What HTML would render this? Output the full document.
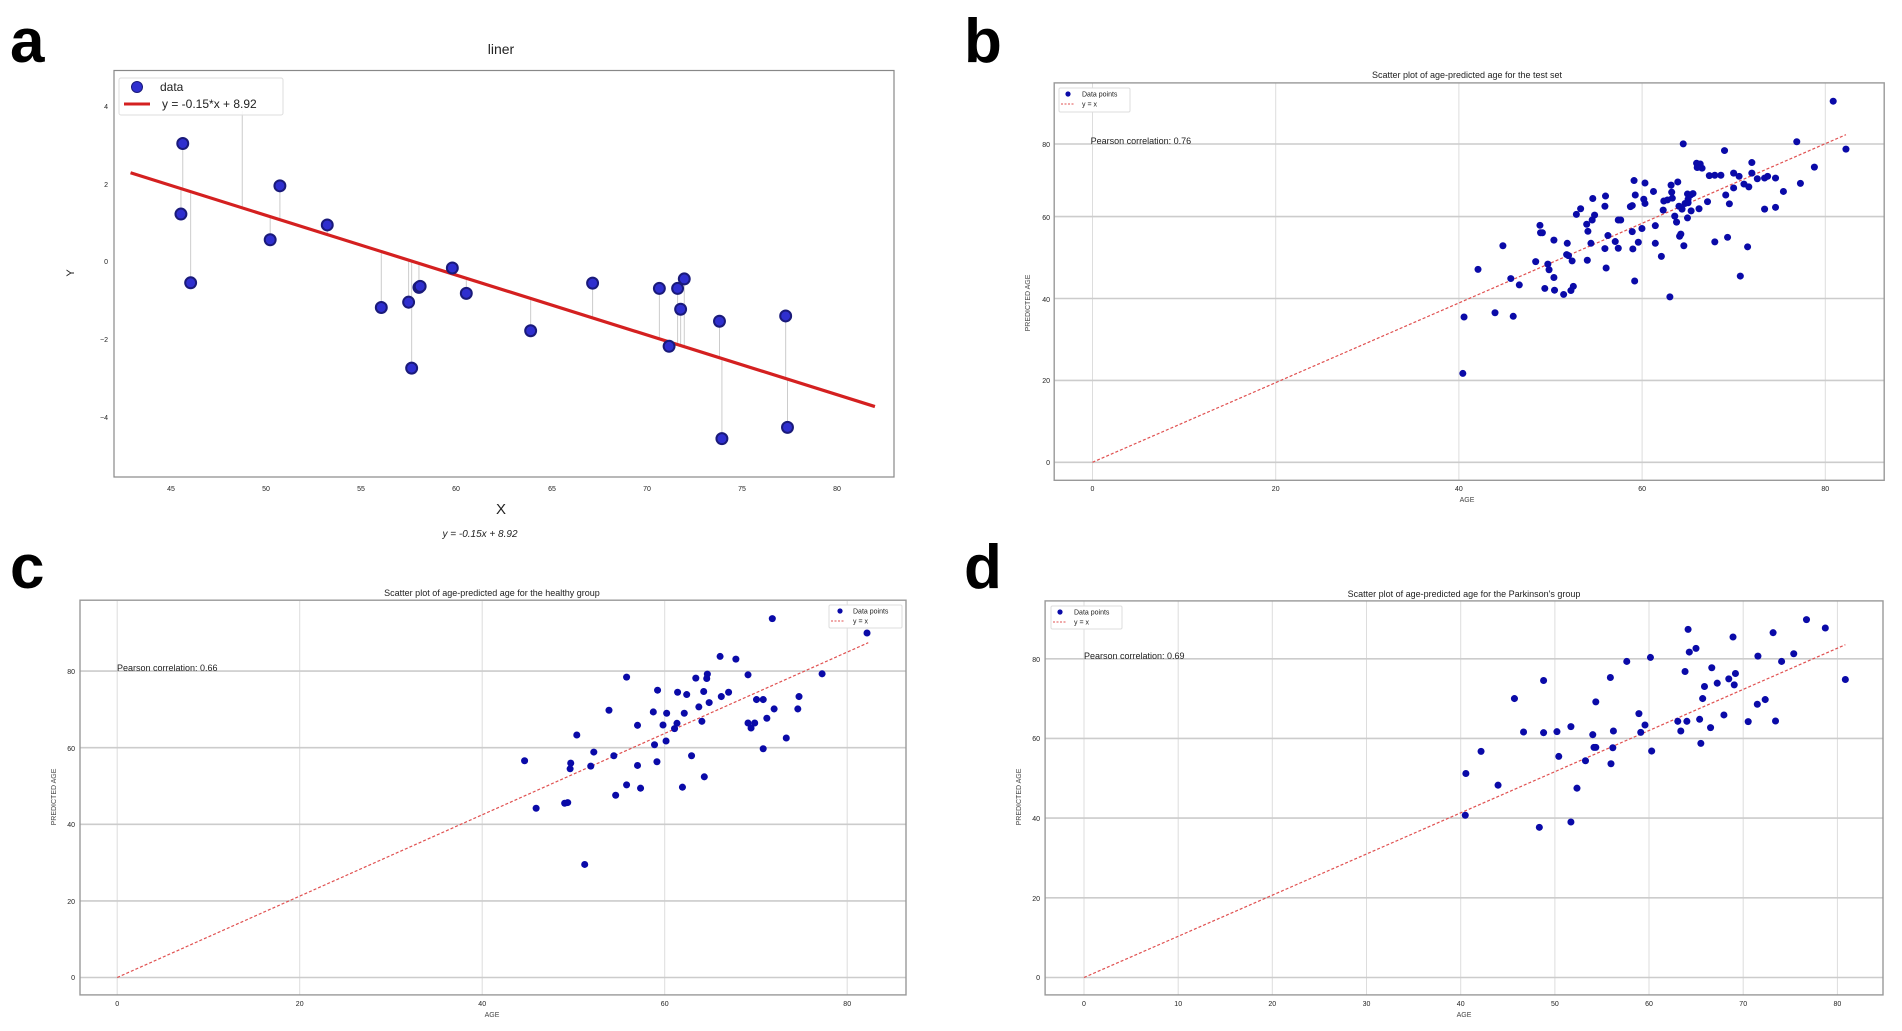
<!DOCTYPE html>
<html><head><meta charset="utf-8"><style>
html,body{margin:0;padding:0;background:#fff}
svg{display:block}
text{font-family:"Liberation Sans",sans-serif;fill:#222}
.t{font-size:7px;fill:#444}
.tt{font-size:9px}
.big{font-size:62px;font-weight:bold;fill:#000}
</style></head><body>
<svg width="1902" height="1031" viewBox="0 0 1902 1031" xmlns="http://www.w3.org/2000/svg" xmlns:xlink="http://www.w3.org/1999/xlink">
<defs>
<ellipse id="ma" cx="0" cy="0" rx="9" ry="15.6" fill="#2f2fcf" stroke="#1a1a7a" stroke-width="2" vector-effect="non-scaling-stroke"/>
<ellipse id="mb" cx="0" cy="0" rx="5.8" ry="9.9" fill="#0a0aa8"/>
<ellipse id="mc" cx="0" cy="0" rx="5.8" ry="10.5" fill="#0a0aa8"/>
</defs>

<!-- Panel labels -->
<text x="10" y="62" class="big">a</text>
<text x="964" y="62" class="big">b</text>
<text x="10" y="588" class="big">c</text>
<text x="964" y="588" class="big">d</text>

<!-- ================= Panel a ================= -->
<rect x="114" y="70.5" width="780" height="406.5" fill="none" stroke="#888" stroke-width="1.2"/>
<text x="501" y="54" text-anchor="middle" style="font-size:14px">liner</text>
<g class="t" text-anchor="middle">
<text x="171" y="491">45</text><text x="266" y="491">50</text><text x="361" y="491">55</text><text x="456" y="491">60</text><text x="552" y="491">65</text><text x="647" y="491">70</text><text x="742" y="491">75</text><text x="837" y="491">80</text>
</g>
<g class="t" text-anchor="end">
<text x="108" y="109">4</text><text x="108" y="187">2</text><text x="108" y="264">0</text><text x="108" y="342">−2</text><text x="108" y="420">−4</text>
</g>
<text x="501" y="514" text-anchor="middle" style="font-size:15px">X</text>
<text x="480" y="537" text-anchor="middle" style="font-size:10px;font-style:italic">y = -0.15x + 8.92</text>
<text x="74" y="273" text-anchor="middle" style="font-size:11px" transform="rotate(-90 74 273)">Y</text>
<g transform="scale(0.60716,0.35261)">
<g stroke="#ccc" stroke-width="1" vector-effect="non-scaling-stroke">
<line x1="301" y1="407" x2="301" y2="536" vector-effect="non-scaling-stroke"/>
<line x1="298" y1="607" x2="298" y2="535" vector-effect="non-scaling-stroke"/>
<line x1="314" y1="802" x2="314" y2="543" vector-effect="non-scaling-stroke"/>
<line x1="399" y1="315" x2="399" y2="589" vector-effect="non-scaling-stroke"/>
<line x1="445" y1="680" x2="445" y2="614" vector-effect="non-scaling-stroke"/>
<line x1="461" y1="527" x2="461" y2="623" vector-effect="non-scaling-stroke"/>
<line x1="539" y1="638" x2="539" y2="665" vector-effect="non-scaling-stroke"/>
<line x1="628" y1="872" x2="628" y2="713" vector-effect="non-scaling-stroke"/>
<line x1="673" y1="857" x2="673" y2="738" vector-effect="non-scaling-stroke"/>
<line x1="678" y1="1044" x2="678" y2="740" vector-effect="non-scaling-stroke"/>
<line x1="690" y1="815" x2="690" y2="747" vector-effect="non-scaling-stroke"/>
<line x1="745" y1="760" x2="745" y2="777" vector-effect="non-scaling-stroke"/>
<line x1="768" y1="832" x2="768" y2="789" vector-effect="non-scaling-stroke"/>
<line x1="874" y1="938" x2="874" y2="846" vector-effect="non-scaling-stroke"/>
<line x1="976" y1="803" x2="976" y2="901" vector-effect="non-scaling-stroke"/>
<line x1="1086" y1="818" x2="1086" y2="961" vector-effect="non-scaling-stroke"/>
<line x1="1102" y1="982" x2="1102" y2="970" vector-effect="non-scaling-stroke"/>
<line x1="1116" y1="818" x2="1116" y2="977" vector-effect="non-scaling-stroke"/>
<line x1="1121" y1="877" x2="1121" y2="980" vector-effect="non-scaling-stroke"/>
<line x1="1127" y1="791" x2="1127" y2="983" vector-effect="non-scaling-stroke"/>
<line x1="1185" y1="911" x2="1185" y2="1015" vector-effect="non-scaling-stroke"/>
<line x1="1189" y1="1244" x2="1189" y2="1017" vector-effect="non-scaling-stroke"/>
<line x1="1294" y1="896" x2="1294" y2="1073" vector-effect="non-scaling-stroke"/>
<line x1="1297" y1="1212" x2="1297" y2="1075" vector-effect="non-scaling-stroke"/>
</g>
<line x1="215" y1="490" x2="1441" y2="1153" stroke="#d42020" stroke-width="3.2" vector-effect="non-scaling-stroke"/>
<use href="#ma" x="301" y="407"/><use href="#ma" x="298" y="607"/><use href="#ma" x="314" y="802"/>
<use href="#ma" x="445" y="680"/><use href="#ma" x="461" y="527"/><use href="#ma" x="539" y="638"/><use href="#ma" x="628" y="872"/>
<use href="#ma" x="673" y="857"/><use href="#ma" x="678" y="1044"/><use href="#ma" x="690" y="815"/><use href="#ma" x="692" y="812"/>
<use href="#ma" x="745" y="760"/><use href="#ma" x="768" y="832"/><use href="#ma" x="874" y="938"/><use href="#ma" x="976" y="803"/>
<use href="#ma" x="1086" y="818"/><use href="#ma" x="1102" y="982"/><use href="#ma" x="1116" y="818"/><use href="#ma" x="1121" y="877"/>
<use href="#ma" x="1127" y="791"/><use href="#ma" x="1185" y="911"/><use href="#ma" x="1189" y="1244"/><use href="#ma" x="1294" y="896"/><use href="#ma" x="1297" y="1212"/>
</g>
<rect x="119" y="78" width="164" height="37" fill="#fff" fill-opacity="0.85" stroke="#ddd" rx="2"/>
<circle cx="137" cy="87" r="5.5" fill="#2f2fcf" stroke="#1a1a7a"/>
<text x="160" y="91" style="font-size:12px">data</text>
<line x1="124" y1="104" x2="150" y2="104" stroke="#d42020" stroke-width="3"/>
<text x="162" y="108" style="font-size:12px">y = -0.15*x + 8.92</text>

<!-- ================= Panel b ================= -->
<g stroke="#ddd" stroke-width="1">
<line x1="1092.5" y1="83" x2="1092.5" y2="480"/><line x1="1275.7" y1="83" x2="1275.7" y2="480"/><line x1="1458.9" y1="83" x2="1458.9" y2="480"/><line x1="1642.1" y1="83" x2="1642.1" y2="480"/><line x1="1825.3" y1="83" x2="1825.3" y2="480"/>
</g>
<g stroke="#ccc" stroke-width="1.6">
<line x1="1054" y1="462.3" x2="1884" y2="462.3"/><line x1="1054" y1="380.4" x2="1884" y2="380.4"/><line x1="1054" y1="298.5" x2="1884" y2="298.5"/><line x1="1054" y1="216.6" x2="1884" y2="216.6"/><line x1="1054" y1="144" x2="1884" y2="144"/>
</g>
<rect x="1054.2" y="82.9" width="830" height="397.4" fill="none" stroke="#999" stroke-width="1.4"/>
<text x="1467" y="78" text-anchor="middle" class="tt">Scatter plot of age-predicted age for the test set</text>
<text x="1090.6" y="144" class="tt">Pearson correlation: 0.76</text>
<text x="1467" y="502" text-anchor="middle" class="t">AGE</text>
<text x="1030" y="303" text-anchor="middle" class="t" transform="rotate(-90 1030 303)">PREDICTED AGE</text>
<g class="t" text-anchor="middle">
<text x="1092.5" y="491">0</text><text x="1275.7" y="491">20</text><text x="1458.9" y="491">40</text><text x="1642.1" y="491">60</text><text x="1825.3" y="491">80</text>
</g>
<g class="t" text-anchor="end">
<text x="1050" y="465">0</text><text x="1050" y="383">20</text><text x="1050" y="302">40</text><text x="1050" y="220">60</text><text x="1050" y="147">80</text>
</g>
<g transform="translate(951,0) scale(0.60716,0.35261)">
<line x1="233" y1="1311" x2="1474" y2="382" stroke="#e05050" stroke-width="1.2" stroke-dasharray="3,2" vector-effect="non-scaling-stroke"/>
<use href="#mb" x="1453" y="287"/><use href="#mb" x="1393" y="402"/><use href="#mb" x="1206" y="408"/><use href="#mb" x="1474" y="423"/><use href="#mb" x="1274" y="427"/><use href="#mb" x="1422" y="474"/><use href="#mb" x="1399" y="520"/><use href="#mb" x="1319" y="461"/><use href="#mb" x="1228" y="463"/><use href="#mb" x="1234" y="465"/><use href="#mb" x="1229" y="475"/><use href="#mb" x="1237" y="477"/><use href="#mb" x="1249" y="498"/><use href="#mb" x="1258" y="497"/><use href="#mb" x="1268" y="497"/><use href="#mb" x="1289" y="491"/><use href="#mb" x="1298" y="500"/><use href="#mb" x="1289" y="533"/><use href="#mb" x="1306" y="522"/><use href="#mb" x="1319" y="491"/><use href="#mb" x="1328" y="507"/><use href="#mb" x="1340" y="505"/><use href="#mb" x="1345" y="500"/><use href="#mb" x="1358" y="505"/><use href="#mb" x="1371" y="543"/><use href="#mb" x="1358" y="588"/><use href="#mb" x="1340" y="593"/><use href="#mb" x="1246" y="572"/><use href="#mb" x="1232" y="592"/><use href="#mb" x="1213" y="550"/><use href="#mb" x="1218" y="553"/><use href="#mb" x="1222" y="549"/><use href="#mb" x="1214" y="565"/><use href="#mb" x="1209" y="577"/><use href="#mb" x="1199" y="585"/><use href="#mb" x="1188" y="562"/><use href="#mb" x="1186" y="525"/><use href="#mb" x="1197" y="516"/><use href="#mb" x="1180" y="567"/><use href="#mb" x="1173" y="596"/><use href="#mb" x="1192" y="613"/><use href="#mb" x="1195" y="630"/><use href="#mb" x="1213" y="618"/><use href="#mb" x="1219" y="598"/><use href="#mb" x="1204" y="593"/><use href="#mb" x="1200" y="670"/><use href="#mb" x="1207" y="697"/><use href="#mb" x="1258" y="686"/><use href="#mb" x="1279" y="673"/><use href="#mb" x="1276" y="553"/><use href="#mb" x="1282" y="578"/><use href="#mb" x="1312" y="700"/><use href="#mb" x="1300" y="783"/><use href="#mb" x="1314" y="530"/><use href="#mb" x="1125" y="512"/><use href="#mb" x="1143" y="519"/><use href="#mb" x="1157" y="543"/><use href="#mb" x="1141" y="565"/><use href="#mb" x="1143" y="577"/><use href="#mb" x="1122" y="583"/><use href="#mb" x="1127" y="553"/><use href="#mb" x="1174" y="570"/><use href="#mb" x="1160" y="640"/><use href="#mb" x="1160" y="690"/><use href="#mb" x="1170" y="727"/><use href="#mb" x="1184" y="842"/><use href="#mb" x="1126" y="797"/><use href="#mb" x="1132" y="687"/><use href="#mb" x="1123" y="706"/><use href="#mb" x="1122" y="657"/><use href="#mb" x="1138" y="648"/><use href="#mb" x="1099" y="624"/><use href="#mb" x="1103" y="624"/><use href="#mb" x="1078" y="556"/><use href="#mb" x="1077" y="585"/><use href="#mb" x="1057" y="563"/><use href="#mb" x="1056" y="624"/><use href="#mb" x="1037" y="592"/><use href="#mb" x="1047" y="636"/><use href="#mb" x="1049" y="656"/><use href="#mb" x="1054" y="690"/><use href="#mb" x="1082" y="668"/><use href="#mb" x="1077" y="705"/><use href="#mb" x="1079" y="760"/><use href="#mb" x="1094" y="685"/><use href="#mb" x="1099" y="704"/><use href="#mb" x="1030" y="608"/><use href="#mb" x="1015" y="690"/><use href="#mb" x="1014" y="722"/><use href="#mb" x="1023" y="740"/><use href="#mb" x="1048" y="738"/><use href="#mb" x="993" y="681"/><use href="#mb" x="970" y="639"/><use href="#mb" x="971" y="660"/><use href="#mb" x="974" y="660"/><use href="#mb" x="963" y="742"/><use href="#mb" x="983" y="749"/><use href="#mb" x="985" y="765"/><use href="#mb" x="993" y="787"/><use href="#mb" x="978" y="818"/><use href="#mb" x="994" y="823"/><use href="#mb" x="1009" y="835"/><use href="#mb" x="1021" y="824"/><use href="#mb" x="1025" y="812"/><use href="#mb" x="909" y="697"/><use href="#mb" x="922" y="790"/><use href="#mb" x="936" y="808"/><use href="#mb" x="868" y="764"/><use href="#mb" x="896" y="887"/><use href="#mb" x="926" y="897"/><use href="#mb" x="845" y="899"/><use href="#mb" x="843" y="1059"/><use href="#mb" x="1017" y="725"/><use href="#mb" x="1060" y="610"/><use href="#mb" x="1119" y="586"/><use href="#mb" x="1187" y="545"/><use href="#mb" x="1214" y="575"/><use href="#mb" x="1202" y="664"/>
</g>
<rect x="1059" y="88" width="71" height="24" fill="#fff" stroke="#ddd" rx="1.5"/>
<circle cx="1068" cy="94" r="2.6" fill="#0a0aa8"/>
<text x="1082" y="96.5" style="font-size:7px">Data points</text>
<line x1="1061" y1="104" x2="1075" y2="104" stroke="#e05050" stroke-dasharray="2,1.5"/>
<text x="1082" y="106.5" style="font-size:7px">y = x</text>

<!-- ================= Panel c ================= -->
<g stroke="#ddd" stroke-width="1">
<line x1="117.2" y1="601" x2="117.2" y2="995"/><line x1="299.7" y1="601" x2="299.7" y2="995"/><line x1="482.2" y1="601" x2="482.2" y2="995"/><line x1="664.7" y1="601" x2="664.7" y2="995"/><line x1="847.2" y1="601" x2="847.2" y2="995"/>
</g>
<g stroke="#ccc" stroke-width="1.6">
<line x1="80" y1="977.5" x2="906" y2="977.5"/><line x1="80" y1="900.9" x2="906" y2="900.9"/><line x1="80" y1="824.3" x2="906" y2="824.3"/><line x1="80" y1="747.7" x2="906" y2="747.7"/><line x1="80" y1="671.1" x2="906" y2="671.1"/>
</g>
<rect x="80" y="600.2" width="826" height="394.7" fill="none" stroke="#999" stroke-width="1.4"/>
<text x="492" y="596" text-anchor="middle" class="tt">Scatter plot of age-predicted age for the healthy group</text>
<text x="117" y="671" class="tt">Pearson correlation: 0.66</text>
<text x="492" y="1017" text-anchor="middle" class="t">AGE</text>
<text x="56" y="797" text-anchor="middle" class="t" transform="rotate(-90 56 797)">PREDICTED AGE</text>
<g class="t" text-anchor="middle">
<text x="117.2" y="1006">0</text><text x="299.7" y="1006">20</text><text x="482.2" y="1006">40</text><text x="664.7" y="1006">60</text><text x="847.2" y="1006">80</text>
</g>
<g class="t" text-anchor="end">
<text x="75" y="980">0</text><text x="75" y="904">20</text><text x="75" y="827">40</text><text x="75" y="751">60</text><text x="75" y="674">80</text>
</g>
<g transform="translate(0,530) scale(0.60716,0.33445)">
<line x1="193" y1="1338" x2="1430" y2="337" stroke="#e05050" stroke-width="1.2" stroke-dasharray="3,2" vector-effect="non-scaling-stroke"/>
<use href="#mc" x="1272" y="265"/><use href="#mc" x="1428" y="308"/><use href="#mc" x="1186" y="378"/><use href="#mc" x="1212" y="386"/><use href="#mc" x="1232" y="433"/><use href="#mc" x="1354" y="430"/><use href="#mc" x="1032" y="440"/><use href="#mc" x="1146" y="443"/><use href="#mc" x="1165" y="431"/><use href="#mc" x="1164" y="444"/><use href="#mc" x="1083" y="479"/><use href="#mc" x="1116" y="485"/><use href="#mc" x="1131" y="492"/><use href="#mc" x="1159" y="483"/><use href="#mc" x="1200" y="485"/><use href="#mc" x="1188" y="498"/><use href="#mc" x="1168" y="516"/><use href="#mc" x="1316" y="498"/><use href="#mc" x="1246" y="507"/><use href="#mc" x="1257" y="507"/><use href="#mc" x="1151" y="529"/><use href="#mc" x="1003" y="539"/><use href="#mc" x="1076" y="544"/><use href="#mc" x="1098" y="548"/><use href="#mc" x="1127" y="548"/><use href="#mc" x="1275" y="535"/><use href="#mc" x="1314" y="535"/><use href="#mc" x="1263" y="563"/><use href="#mc" x="1050" y="584"/><use href="#mc" x="1092" y="583"/><use href="#mc" x="1115" y="578"/><use href="#mc" x="1111" y="594"/><use href="#mc" x="1156" y="572"/><use href="#mc" x="1232" y="577"/><use href="#mc" x="1243" y="577"/><use href="#mc" x="1237" y="592"/><use href="#mc" x="950" y="613"/><use href="#mc" x="1097" y="631"/><use href="#mc" x="1078" y="642"/><use href="#mc" x="1295" y="622"/><use href="#mc" x="1257" y="654"/><use href="#mc" x="978" y="664"/><use href="#mc" x="1011" y="675"/><use href="#mc" x="1139" y="675"/><use href="#mc" x="864" y="690"/><use href="#mc" x="940" y="697"/><use href="#mc" x="939" y="714"/><use href="#mc" x="973" y="706"/><use href="#mc" x="1050" y="704"/><use href="#mc" x="1082" y="693"/><use href="#mc" x="1160" y="738"/><use href="#mc" x="1032" y="762"/><use href="#mc" x="1055" y="772"/><use href="#mc" x="1124" y="769"/><use href="#mc" x="1014" y="793"/><use href="#mc" x="883" y="832"/><use href="#mc" x="930" y="817"/><use href="#mc" x="935" y="815"/><use href="#mc" x="963" y="1000"/>
</g>
<rect x="829" y="605" width="73" height="23" fill="#fff" stroke="#ddd" rx="1.5"/>
<circle cx="840" cy="611" r="2.6" fill="#0a0aa8"/>
<text x="853" y="613.5" style="font-size:7px">Data points</text>
<line x1="831" y1="621" x2="845" y2="621" stroke="#e05050" stroke-dasharray="2,1.5"/>
<text x="853" y="623.5" style="font-size:7px">y = x</text>

<!-- ================= Panel d ================= -->
<g stroke="#ddd" stroke-width="1">
<line x1="1084" y1="601" x2="1084" y2="995"/><line x1="1178.2" y1="601" x2="1178.2" y2="995"/><line x1="1272.3" y1="601" x2="1272.3" y2="995"/><line x1="1366.5" y1="601" x2="1366.5" y2="995"/><line x1="1460.7" y1="601" x2="1460.7" y2="995"/><line x1="1554.9" y1="601" x2="1554.9" y2="995"/><line x1="1649" y1="601" x2="1649" y2="995"/><line x1="1743.2" y1="601" x2="1743.2" y2="995"/><line x1="1837.4" y1="601" x2="1837.4" y2="995"/>
</g>
<g stroke="#ccc" stroke-width="1.6">
<line x1="1045" y1="977.5" x2="1883" y2="977.5"/><line x1="1045" y1="897.8" x2="1883" y2="897.8"/><line x1="1045" y1="818.1" x2="1883" y2="818.1"/><line x1="1045" y1="738.4" x2="1883" y2="738.4"/><line x1="1045" y1="658.8" x2="1883" y2="658.8"/>
</g>
<rect x="1045.1" y="600.9" width="837.9" height="394" fill="none" stroke="#999" stroke-width="1.4"/>
<text x="1464" y="597" text-anchor="middle" class="tt">Scatter plot of age-predicted age for the Parkinson's group</text>
<text x="1084" y="659" class="tt">Pearson correlation: 0.69</text>
<text x="1464" y="1017" text-anchor="middle" class="t">AGE</text>
<text x="1021" y="797" text-anchor="middle" class="t" transform="rotate(-90 1021 797)">PREDICTED AGE</text>
<g class="t" text-anchor="middle">
<text x="1084" y="1006">0</text><text x="1178.2" y="1006">10</text><text x="1272.3" y="1006">20</text><text x="1366.5" y="1006">30</text><text x="1460.7" y="1006">40</text><text x="1554.9" y="1006">50</text><text x="1649" y="1006">60</text><text x="1743.2" y="1006">70</text><text x="1837.4" y="1006">80</text>
</g>
<g class="t" text-anchor="end">
<text x="1040" y="980">0</text><text x="1040" y="901">20</text><text x="1040" y="821">40</text><text x="1040" y="741">60</text><text x="1040" y="662">80</text>
</g>
<g transform="translate(951,530) scale(0.60716,0.33445)">
<line x1="219" y1="1338" x2="1473" y2="343" stroke="#e05050" stroke-width="1.2" stroke-dasharray="3,2" vector-effect="non-scaling-stroke"/>
<use href="#mc" x="1409" y="268"/><use href="#mc" x="1440" y="293"/><use href="#mc" x="1214" y="297"/><use href="#mc" x="1354" y="307"/><use href="#mc" x="1288" y="320"/><use href="#mc" x="1227" y="354"/><use href="#mc" x="1216" y="365"/><use href="#mc" x="1152" y="381"/><use href="#mc" x="1329" y="377"/><use href="#mc" x="1388" y="370"/><use href="#mc" x="1113" y="393"/><use href="#mc" x="1368" y="393"/><use href="#mc" x="1253" y="412"/><use href="#mc" x="1209" y="423"/><use href="#mc" x="1292" y="429"/><use href="#mc" x="1086" y="441"/><use href="#mc" x="1281" y="445"/><use href="#mc" x="1290" y="463"/><use href="#mc" x="1262" y="458"/><use href="#mc" x="1241" y="468"/><use href="#mc" x="976" y="450"/><use href="#mc" x="1473" y="447"/><use href="#mc" x="928" y="504"/><use href="#mc" x="1238" y="504"/><use href="#mc" x="1062" y="514"/><use href="#mc" x="1328" y="521"/><use href="#mc" x="1341" y="507"/><use href="#mc" x="1133" y="549"/><use href="#mc" x="1273" y="553"/><use href="#mc" x="1143" y="583"/><use href="#mc" x="1136" y="605"/><use href="#mc" x="1197" y="572"/><use href="#mc" x="1212" y="572"/><use href="#mc" x="1233" y="566"/><use href="#mc" x="1313" y="573"/><use href="#mc" x="1358" y="571"/><use href="#mc" x="1251" y="591"/><use href="#mc" x="1202" y="601"/><use href="#mc" x="943" y="604"/><use href="#mc" x="976" y="606"/><use href="#mc" x="998" y="603"/><use href="#mc" x="1021" y="588"/><use href="#mc" x="1057" y="612"/><use href="#mc" x="1091" y="601"/><use href="#mc" x="1059" y="650"/><use href="#mc" x="1062" y="650"/><use href="#mc" x="1090" y="651"/><use href="#mc" x="1235" y="638"/><use href="#mc" x="873" y="662"/><use href="#mc" x="1154" y="661"/><use href="#mc" x="1001" y="677"/><use href="#mc" x="1045" y="690"/><use href="#mc" x="1087" y="699"/><use href="#mc" x="848" y="728"/><use href="#mc" x="901" y="763"/><use href="#mc" x="1031" y="772"/><use href="#mc" x="847" y="853"/><use href="#mc" x="1021" y="873"/><use href="#mc" x="969" y="889"/>
</g>
<rect x="1051" y="606" width="71" height="23" fill="#fff" stroke="#ddd" rx="1.5"/>
<circle cx="1060" cy="612" r="2.6" fill="#0a0aa8"/>
<text x="1074" y="614.5" style="font-size:7px">Data points</text>
<line x1="1053" y1="622" x2="1067" y2="622" stroke="#e05050" stroke-dasharray="2,1.5"/>
<text x="1074" y="624.5" style="font-size:7px">y = x</text>
</svg>
</body></html>
